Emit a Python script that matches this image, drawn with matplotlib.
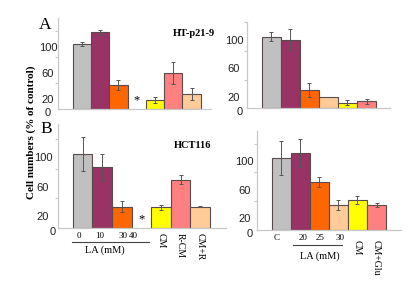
import matplotlib
matplotlib.use('Agg')
import matplotlib.pyplot as plt
from matplotlib.transforms import offset_copy

# dados (% do controle)
cores_esq = ['#C0C0C0', '#993366', '#FF6600', '#FFFF00', '#FF8080', '#FFCC99']
cores_dir = ['#C0C0C0', '#993366', '#FF6600', '#FFCC99', '#FFFF00', '#FF8080']

pos_esq = [0, 1, 2, 4, 5, 6]   # posicao 3 = asterisco (40 mM)
pos_dir = [0, 1, 2, 3, 4, 5]

a_esq = [100, 118, 37, 14, 55, 23]
a_esq_err = [3, 4, 8, 5, 17, 9]
a_dir = [100, 96, 26, 16, 8, 10]
a_dir_err = [6, 14, 10, 0, 4, 3.5]
b_esq = [100, 82, 29, 28, 65, 29]
b_esq_err = [23, 18, 7, 3, 6, 1]
b_dir = [100, 107, 66, 35, 42, 34]
b_dir_err = [24, 19, 7, 7, 5.5, 3]

rotulos_y = [0, 20, 60, 100]
b_esq_doses = ['0', '10', '30', '40']
b_esq_doses_x = [-0.2, 0.9, 2.05, 2.6]
b_esq_rot = ['CM', 'R-CM', 'CM+R']
b_dir_doses = ['C', '20', '25', '30']
b_dir_doses_x = [-0.24, 1.13, 2.04, 3.09]
b_dir_rot = ['CM', 'CM+Glu']

W, H = 420, 308
SERIF = 'Liberation Serif'
SANS = 'Liberation Sans'

fig = plt.figure(figsize=(W / 100, H / 100), dpi=100)


def eixo(esq, topo, dir_, base, xlim, ylim):
    ax = fig.add_axes([esq / W, 1 - base / H, (dir_ - esq) / W, (base - topo) / H])
    ax.set_xlim(*xlim)
    ax.set_ylim(*ylim)
    for s in ['top', 'right']:
        ax.spines[s].set_visible(False)
    for s in ['left', 'bottom']:
        ax.spines[s].set_color('#c8c8c8')
        ax.spines[s].set_linewidth(0.9)
    ax.set_xticks([])
    ax.set_yticks([t for t in (40, 80, 120) if t <= ylim[1]])
    ax.set_yticklabels([])
    ax.tick_params(axis='y', length=2.5, color='#c8c8c8', width=0.8)
    return ax


def barras(ax, pos, vals, errs, cores):
    ax.bar(pos, vals, width=1.0, color=cores, edgecolor='#5a4a4a', linewidth=0.8, zorder=2)
    ax.errorbar(pos, vals, yerr=errs, fmt='none', ecolor='#555555', elinewidth=0.7,
                capsize=1.3, capthick=0.7, zorder=3)


def rotulos(ax, dx_num, dx_zero):
    for v in rotulos_y:
        dx = dx_zero if v == 0 else dx_num
        t = offset_copy(ax.get_yaxis_transform(), fig, x=dx, y=-4, units='dots')
        ax.text(0, v, str(v), transform=t, ha='center', va='center',
                fontsize=8, family=SANS, color='#222222')


ax1 = eixo(58, 18, 210.8, 109, (-1.3, 7.05), (0, 140))
barras(ax1, pos_esq, a_esq, a_esq_err, cores_esq)
rotulos(ax1, -10, -10)

ax2 = eixo(247, 22.3, 390, 108.3, (-1.27, 6.23), (0, 120))
barras(ax2, pos_dir, a_dir, a_dir_err, cores_dir)
rotulos(ax2, -13, -7.5)

ax3 = eixo(58, 124.4, 226, 228, (-1.25, 7.32), (0, 140))
barras(ax3, pos_esq, b_esq, b_esq_err, cores_esq)
rotulos(ax3, -15, -5.5)

ax4 = eixo(256.7, 130.7, 400.7, 229.7, (-1.29, 6.27), (0, 138))
barras(ax4, pos_dir, b_dir, b_dir_err, cores_dir)
rotulos(ax4, -12, -7)

# asteriscos (40 mM)
for ax in (ax1, ax3):
    ax.annotate('*', xy=(3, 0), xytext=(0, 9), textcoords='offset pixels',
                ha='center', va='center', fontsize=9, family=SERIF, annotation_clip=False)


def eixo_x(ax, doses, doses_x, dy_num, rot, rot_x, dy_rot, linha, dy_linha, la_x, dy_la):
    for s, x in zip(doses, doses_x):
        ax.annotate(s, xy=(x, 0), xytext=(0, dy_num), textcoords='offset pixels',
                    ha='center', va='center', fontsize=6.5, family=SERIF, annotation_clip=False)
    for s, x in zip(rot, rot_x):
        ax.annotate(s, xy=(x, 0), xytext=(0, dy_rot), textcoords='offset pixels',
                    ha='center', va='top', rotation=270, fontsize=7, family=SERIF,
                    annotation_clip=False)
    t = offset_copy(ax.transData, fig, x=0, y=dy_linha, units='dots')
    ax.plot(linha, [0, 0], transform=t, color='#444444', lw=0.8, clip_on=False)
    ax.annotate('LA (mM)', xy=(la_x, 0), xytext=(0, dy_la), textcoords='offset pixels',
                ha='center', va='center', fontsize=7.5, family=SERIF, annotation_clip=False)


eixo_x(ax3, b_esq_doses, b_esq_doses_x, -7.7, b_esq_rot, pos_esq[3:], -5,
       [-0.55, 3.41], -14.3, 1.15, -21.7)
eixo_x(ax4, b_dir_doses, b_dir_doses_x, -8.8, b_dir_rot, pos_dir[4:], -10.3,
       [0.6, 3.17], -15, 2.04, -26)

# textos da figura
fig.text(45.5 / W, 1 - 25 / H, 'A', fontsize=12.5, family=SERIF, ha='center', va='center')
fig.text(45.8 / W, 1 - 129 / H, 'B', fontsize=12.5, family=SERIF, ha='center', va='center')
fig.text(173 / W, 1 - 33 / H, 'HT-p21-9', fontsize=7.5, family=SERIF, weight='bold',
         ha='left', va='center')
fig.text(174 / W, 1 - 145 / H, 'HCT116', fontsize=7.5, family=SERIF, weight='bold',
         ha='left', va='center')
fig.text(30.7 / W, 1 - 132.5 / H, 'Cell numbers (% of control)', fontsize=8, family=SERIF,
         weight='bold', rotation=90, ha='center', va='center')

fig.savefig('out.png', dpi=100)
